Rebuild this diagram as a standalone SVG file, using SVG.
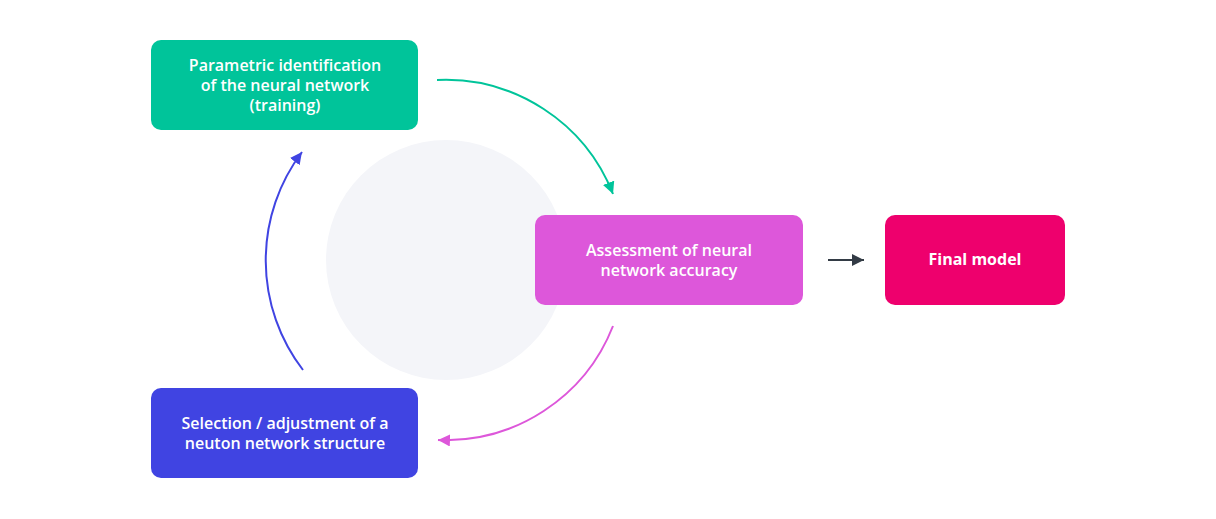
<svg xmlns="http://www.w3.org/2000/svg" width="1216" height="519" viewBox="0 0 1216 519">
<style>
.lbl{font-family:"Open Sans","Noto Sans","Liberation Sans",sans-serif;font-size:16px;font-weight:600;fill:#ffffff;text-anchor:middle}
.bold{font-weight:700}
.conn{fill:none;stroke-width:2}
</style>
<defs>
<marker id="hg" markerUnits="userSpaceOnUse" markerWidth="14" markerHeight="14" refX="12" refY="6" orient="auto" viewBox="0 0 14 14"><path d="M0,0 L12,6 L0,12 Z" fill="#00C49A"/></marker>
<marker id="hp" markerUnits="userSpaceOnUse" markerWidth="14" markerHeight="14" refX="12" refY="6" orient="auto" viewBox="0 0 14 14"><path d="M0,0 L12,6 L0,12 Z" fill="#DD57DA"/></marker>
<marker id="hb" markerUnits="userSpaceOnUse" markerWidth="14" markerHeight="14" refX="12" refY="6" orient="auto" viewBox="0 0 14 14"><path d="M0,0 L12,6 L0,12 Z" fill="#4044E2"/></marker>
<marker id="hd" markerUnits="userSpaceOnUse" markerWidth="14" markerHeight="14" refX="12" refY="6" orient="auto" viewBox="0 0 14 14"><path d="M0,0 L12,6 L0,12 Z" fill="#333B45"/></marker>
</defs>
<rect width="1216" height="519" fill="#ffffff"/>
<circle cx="446" cy="260" r="120" fill="#F4F5F9"/>
<g id="connectors">
<path class="conn" stroke="#00C49A" d="M437,80 A180,180 0 0 1 613,194" marker-end="url(#hg)"/>
<path class="conn" stroke="#DD57DA" d="M613,326 A180,180 0 0 1 438,440" marker-end="url(#hp)"/>
<path class="conn" stroke="#4044E2" d="M303,370 A180,180 0 0 1 302,152" marker-end="url(#hb)"/>
<path class="conn" stroke="#333B45" d="M828,260 L864,260" marker-end="url(#hd)"/>
</g>
<g id="node-training">
<rect x="151" y="40" width="267" height="90" rx="10" fill="#00C49A"/>
<text class="lbl" x="285" y="71">Parametric identification</text>
<text class="lbl" x="285" y="91">of the neural network</text>
<text class="lbl" x="285" y="111">(training)</text>
</g>
<g id="node-assessment">
<rect x="535" y="215" width="268" height="90" rx="10" fill="#DD57DA"/>
<text class="lbl" x="669" y="256">Assessment of neural</text>
<text class="lbl" x="669" y="276">network accuracy</text>
</g>
<g id="node-final">
<rect x="885" y="215" width="180" height="90" rx="10" fill="#EE006D"/>
<text class="lbl bold" x="975" y="265">Final model</text>
</g>
<g id="node-selection">
<rect x="151" y="388" width="267" height="90" rx="10" fill="#4044E2"/>
<text class="lbl" x="285" y="429">Selection / adjustment of a</text>
<text class="lbl" x="285" y="449">neuton network structure</text>
</g>
</svg>
